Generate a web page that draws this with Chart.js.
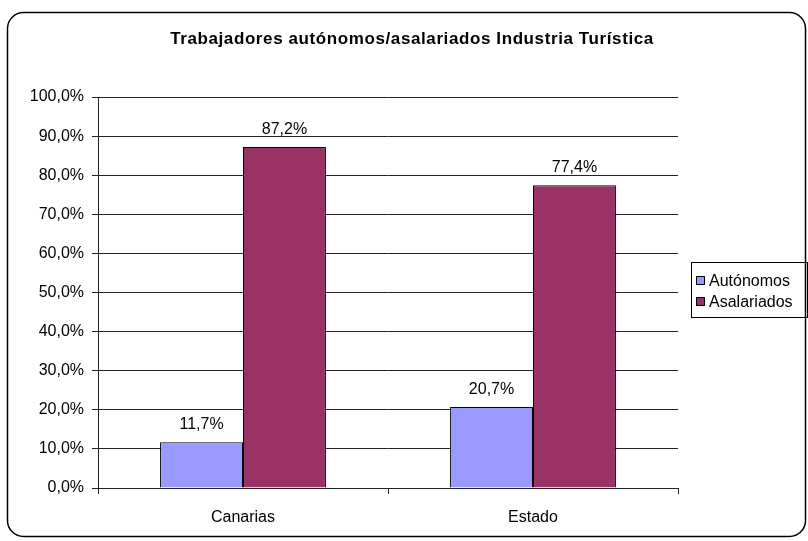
<!DOCTYPE html>
<html>
<head>
<meta charset="utf-8">
<script src="https://cdn.jsdelivr.net/npm/chart.js@4.4.1/dist/chart.umd.min.js"></script>
<style>
    html, body { margin: 0; padding: 0; background: #fff; }
    canvas { display: block; }
</style>
</head>
<body>
<canvas id="chart" width="808" height="541"></canvas>
<script>
// Chart data
const chartTitle = 'Trabajadores autónomos/asalariados Industria Turística';
const categories = ['Canarias', 'Estado'];
const seriesNames = ['Autónomos', 'Asalariados'];
const autonomos = [11.7, 20.7];
const asalariados = [87.2, 77.4];
const seriesColors = ['#9999FF', '#993366'];

const FONT = '"Liberation Sans", Arial, sans-serif';

function pct(v) {
    return v.toFixed(1).replace('.', ',') + '%';
}

// Outer frame, title, legend, value labels
const decorPlugin = {
    id: 'decor',
    beforeDraw(chart) {
        const ctx = chart.ctx;
        ctx.save();
        ctx.fillStyle = '#fff';
        ctx.fillRect(0, 0, chart.width, chart.height);
        ctx.strokeStyle = '#000';
        ctx.lineWidth = 1.5;
        ctx.beginPath();
        ctx.roundRect(7.5, 12.5, 798, 524, 16);
        ctx.stroke();

        ctx.fillStyle = '#000';
        ctx.font = 'bold 17px ' + FONT;
        ctx.letterSpacing = '0.6px';
        ctx.textAlign = 'center';
        ctx.textBaseline = 'middle';
        ctx.fillText(chartTitle, 412, 39);
        ctx.restore();
    },
    afterDatasetsDraw(chart) {
        const ctx = chart.ctx;
        ctx.save();
        ctx.font = '16px ' + FONT;
        ctx.fillStyle = '#000';
        ctx.textAlign = 'center';
        ctx.textBaseline = 'alphabetic';
        chart.data.datasets.forEach((ds, i) => {
            chart.getDatasetMeta(i).data.forEach((bar, j) => {
                ctx.fillText(pct(ds.data[j]), bar.x, bar.y - 13);
            });
        });

        // legend
        ctx.strokeStyle = '#000';
        ctx.lineWidth = 1;
        ctx.strokeRect(691.5, 262.5, 116, 55);
        ctx.textAlign = 'left';
        ctx.textBaseline = 'middle';
        chart.data.datasets.forEach((ds, i) => {
            const y = 281 + i * 21;
            ctx.fillStyle = ds.backgroundColor;
            ctx.fillRect(696, y - 5, 9, 9);
            ctx.strokeRect(696.5, y - 4.5, 8, 8);
            ctx.fillStyle = '#000';
            ctx.fillText(ds.label, 709, y + 1);
        });
        ctx.restore();
    }
};

new Chart(document.getElementById('chart'), {
    type: 'bar',
    data: {
        labels: categories,
        datasets: [
            {
                label: seriesNames[0],
                data: autonomos,
                backgroundColor: seriesColors[0],
                borderColor: '#000',
                borderWidth: 1,
                categoryPercentage: 0.572,
                barPercentage: 1
            },
            {
                label: seriesNames[1],
                data: asalariados,
                backgroundColor: seriesColors[1],
                borderColor: '#000',
                borderWidth: 1,
                categoryPercentage: 0.572,
                barPercentage: 1
            }
        ]
    },
    options: {
        responsive: false,
        animation: false,
        layout: { padding: { top: 97, right: 130, left: 0, bottom: 0 } },
        plugins: {
            legend: { display: false },
            title: { display: false },
            tooltip: { enabled: false }
        },
        scales: {
            x: {
                afterFit(scale) { scale.height = 53; },
                grid: {
                    drawOnChartArea: false,
                    drawTicks: true,
                    tickLength: 6,
                    color: '#222'
                },
                border: { color: '#222' },
                ticks: {
                    color: '#000',
                    padding: 14,
                    font: { family: FONT, size: 16 }
                }
            },
            y: {
                min: 0,
                max: 100,
                afterFit(scale) { scale.width = 98; },
                grid: {
                    color: '#222',
                    tickLength: 6
                },
                border: { color: '#222' },
                ticks: {
                    stepSize: 10,
                    color: '#000',
                    padding: 8,
                    font: { family: FONT, size: 16 },
                    callback: v => pct(v)
                }
            }
        }
    },
    plugins: [decorPlugin]
});
</script>
</body>
</html>
